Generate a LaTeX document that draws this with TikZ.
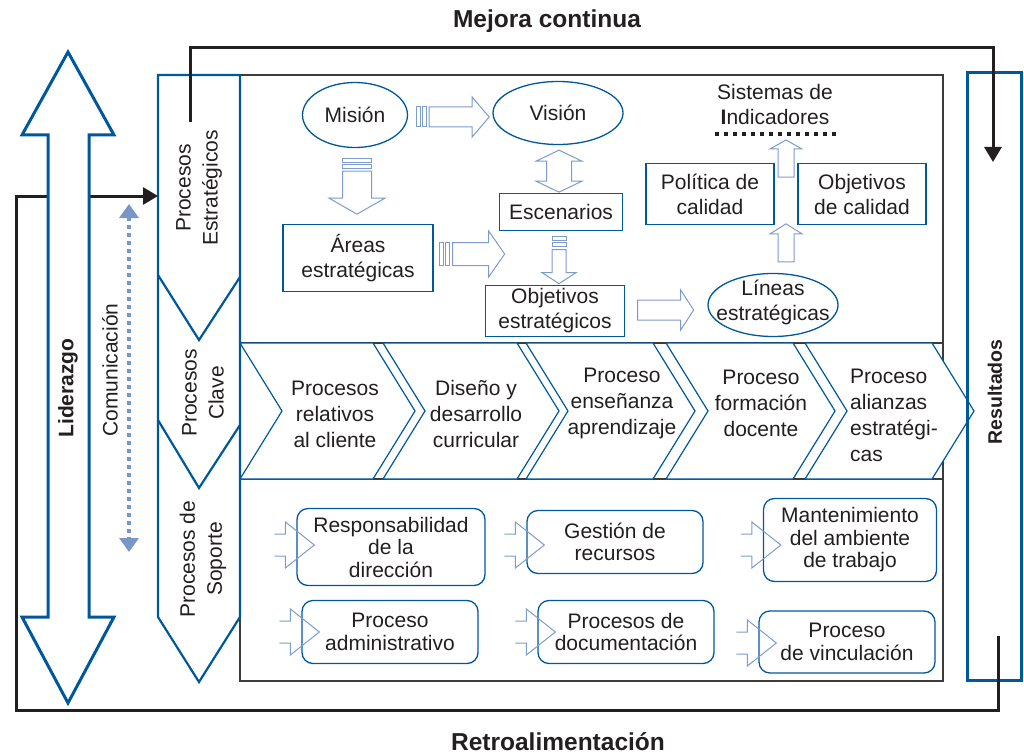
\documentclass[tikz,border=0pt]{standalone}
\usepackage{fontspec}
\setmainfont{Liberation Sans}
\usetikzlibrary{calc,shapes.geometric,arrows.meta}

\definecolor{procblue}{RGB}{0,88,156}
\definecolor{arrowblue}{RGB}{125,155,205}
\definecolor{dotblue}{RGB}{120,150,200}
\definecolor{inkdark}{RGB}{35,31,32}
\definecolor{framegray}{RGB}{60,60,60}

\tikzset{
  txt/.style={font=\fontsize{21}{25}\selectfont, text=inkdark, align=center, inner sep=0pt},
  stratbox/.style={txt, draw=procblue, line width=1.3pt},
  stratoval/.style={txt, draw=procblue, line width=1.3pt, ellipse},
  supbox/.style={draw=procblue, line width=1.3pt, rounded corners=11pt, inner sep=2pt,
    text=inkdark, align=center, font=\fontsize{21}{22.5}\selectfont},
  chevtxt/.style={font=\fontsize{21}{26}\selectfont, text=inkdark, align=center, inner sep=0pt},
  coltxt/.style={font=\fontsize{21}{27}\selectfont, text=inkdark, align=center, rotate=90, inner sep=0pt},
  boldtxt/.style={font=\bfseries\fontsize{#1}{#1}\selectfont, text=inkdark, inner sep=0pt},
  colline/.style={draw=procblue, line width=2.2pt},
  chevline/.style={draw=procblue, line width=1.2pt, fill=white},
  arrowline/.style={draw=arrowblue, line width=1pt, fill=white},
  loopline/.style={draw=inkdark, line width=3pt, -{Triangle[length=15pt,width=17pt]}},
  pics/blockarrow/.style n args={4}{code={
    \draw[arrowline] (0,-#2) -- ({#1-#4},-#2) -- ({#1-#4},-#3) -- (#1,0)
      -- ({#1-#4},#3) -- ({#1-#4},#2) -- (0,#2) -- cycle;}},
  pics/stripedarrow/.style n args={4}{code={
    \draw[arrowline] (0,-#2) rectangle (4,#2);
    \draw[arrowline] (6,-#2) rectangle (10,#2);
    \draw[arrowline] (13,-#2) -- ({#1-#4},-#2) -- ({#1-#4},-#3) -- (#1,0)
      -- ({#1-#4},#3) -- ({#1-#4},#2) -- (13,#2) -- cycle;}},
  pics/doublearrow/.style n args={4}{code={
    \draw[arrowline] (0,0) -- (#4,-#3) -- (#4,-#2) -- ({#1-#4},-#2) -- ({#1-#4},-#3) -- (#1,0)
      -- ({#1-#4},#3) -- ({#1-#4},#2) -- (#4,#2) -- (#4,#3) -- cycle;}},
  pics/notcharrow/.style={code={
    \draw[arrowline, fill=none] (0,-11) -- (11,-11) -- (11,-23) -- (40,0)
      -- (11,23) -- (11,11) -- (0,11);}},
}

\begin{document}
\begin{tikzpicture}[x=1pt,y=-1pt]
    \useasboundingbox (0,0) rectangle (1024,754);

    % Draw the main frame and its bands
    \draw[framegray, line width=1.2pt] (240,75) rectangle (943,681);
    \draw[framegray, line width=1.2pt] (240,343) -- (943,343);
    \draw[framegray, line width=1.2pt] (240,479) -- (943,479);

    % Draw the process column
    \draw[colline] (158,75) -- (240,75) -- (240,617) -- (199,682) -- (158,617) -- cycle;
    \draw[colline] (158,275) -- (199,340) -- (240,277);
    \draw[colline] (158,420) -- (199,488) -- (240,425);
    \node[coltxt] (colstrat) at (199,188) {Procesos\\Estratégicos};
    \node[coltxt] (colclave) at (203,393) {Procesos\\Clave};
    \node[coltxt] (colsoporte) at (203,559) {Procesos de\\Soporte};

    % Draw the key process chevrons
    \foreach \s/\e in {240/373, 383/517, 526/653, 666/793, 805/932}
        \draw[chevline] (\s,343) -- (\e,343) -- (\e+42,411) -- (\e,479)
            -- (\s,479) -- (\s+42,411) -- cycle;
    \node[chevtxt] (chev1) at (335,414) {Procesos\\relativos\\al cliente};
    \node[chevtxt] (chev2) at (476,414) {Diseño y\\desarrollo\\curricular};
    \node[chevtxt] (chev3) at (622,403) {Proceso\\enseñanza\\aprendizaje};
    \node[chevtxt] (chev4) at (761,403) {Proceso\\formación\\docente};
    \node[chevtxt, align=left, anchor=west] (chev5) at (850,415) {Proceso\\alianzas\\estratégi-\\cas};

    % Draw the strategic nodes
    \node[stratoval, minimum width=105pt, minimum height=65pt] (mision) at (355,115) {Misión};
    \node[stratoval, minimum width=130pt, minimum height=63pt] (vision) at (558,113) {Visión};
    \node[stratbox, minimum width=150pt, minimum height=67pt] (areas) at (358,258) {Áreas\\estratégicas};
    \node[stratbox, minimum width=123pt, minimum height=37pt] (escenarios) at (561,212) {Escenarios};
    \node[stratbox, minimum width=139pt, minimum height=51pt] (objest) at (555,311) {Objetivos\\estratégicos};
    \node[stratbox, minimum width=128pt, minimum height=61pt] (politica) at (710,194) {Política de\\calidad};
    \node[stratbox, minimum width=128pt, minimum height=61pt] (objcal) at (862,194) {Objetivos\\de calidad};
    \node[stratoval, minimum width=130pt, minimum height=63pt] (lineas) at (773,305) {};
    \node[txt] (lineastxt) at (773,302) {Líneas\\estratégicas};
    \node[txt] (indicadores) at (775,104) {Sistemas de\\{\bfseries I}ndicadores};
    \draw[inkdark, line width=4pt, dash pattern=on 4pt off 5pt] (715,134) -- (840,134);

    % Draw the strategic block arrows
    \pic at ($(mision.east)+(8,2)$) {stripedarrow={73}{10}{20}{17}};
    \pic[rotate=-90] at ($(mision.south)+(2,10)$) {stripedarrow={56}{14.5}{28}{16}};
    \pic[rotate=-90] at ($(vision.south)+(1,5)$) {doublearrow={42}{12.5}{23}{11}};
    \pic[rotate=-90] at ($(escenarios.south)+(-2,5.5)$) {stripedarrow={47}{7}{17}{11}};
    \pic at ($(areas.east)+(6,-4)$) {stripedarrow={65}{11.5}{23}{16}};
    \pic at ($(objest.east)+(12.5,-1)$) {blockarrow={56}{10}{20}{13}};
    \pic[rotate=90] at ($(lineas.north)+(13,-11)$) {blockarrow={38}{8}{16}{10}};
    \pic[rotate=90] at (786,177) {blockarrow={37}{8}{16}{9}};

    % Draw the support nodes
    \node[supbox, minimum width=188pt, minimum height=77pt] (resp) at (391,547) {Responsabilidad\\de la\\dirección};
    \node[supbox, minimum width=176pt, minimum height=63pt] (gestion) at (615,542) {Gestión de\\recursos};
    \node[supbox, minimum width=173pt, minimum height=83pt] (mant) at (850,540) {Mantenimiento\\del ambiente\\de trabajo};
    \node[supbox, minimum width=176pt, minimum height=63pt] (admin) at (390,632) {Proceso\\administrativo};
    \node[supbox, minimum width=176pt, minimum height=63pt] (docum) at (626,632) {Procesos de\\documentación};
    \node[supbox, minimum width=176pt, minimum height=62pt] (vincul) at (847,642) {Proceso\\de vinculación};

    % Draw the support arrows
    \pic at ($(resp.west)+(-22,-2)$) {notcharrow};
    \pic at ($(gestion.west)+(-22,3)$) {notcharrow};
    \pic at ($(mant.west)+(-22,5)$) {notcharrow};
    \pic at ($(admin.west)+(-22,0)$) {notcharrow};
    \pic at ($(docum.west)+(-22,0)$) {notcharrow};
    \pic at ($(vincul.west)+(-22,1)$) {notcharrow};

    % Draw the results box
    \node[draw=procblue, line width=3pt, minimum width=54pt, minimum height=607pt, inner sep=0pt]
        (resultados) at (994,376.5) {};
    \node[boldtxt=19.5, rotate=90] (restxt) at (995,392) {Resultados};

    % Draw the loops
    \coordinate (fbstart) at (998,636);
    \coordinate (stratin) at (158,196);
    \coordinate (mejstart) at (190,122);
    \coordinate (resin) at (993,162);
    \draw[loopline] (fbstart) |- (16,710) |- (stratin);
    \draw[loopline] (mejstart) -- (190,48) -| (resin);
    \node[boldtxt=24.5] (mejora) at (547,21) {Mejora continua};
    \node[boldtxt=24.5] (retro) at (558,742) {Retroalimentación};

    % Draw the leadership arrow
    \draw[draw=procblue, line width=3pt, fill=white] (68,52) -- (114,135) -- (89,135) -- (89,617)
        -- (114,617) -- (68,703) -- (22,617) -- (48,617) -- (48,135) -- (22,135) -- cycle;
    \node[boldtxt=21, rotate=90] (lidtxt) at (68,388) {Liderazgo};

    % Draw the communication arrow
    \coordinate (comtop) at (129,204);
    \coordinate (combot) at (129,552);
    \draw[dotblue, line width=4pt, dash pattern=on 4pt off 4pt,
        {Triangle[length=14pt,width=19pt]}-{Triangle[length=14pt,width=19pt]}] (comtop) -- (combot);
    \node[txt, rotate=90] (comtxt) at (110,370) {Comunicación};
\end{tikzpicture}
\end{document}
